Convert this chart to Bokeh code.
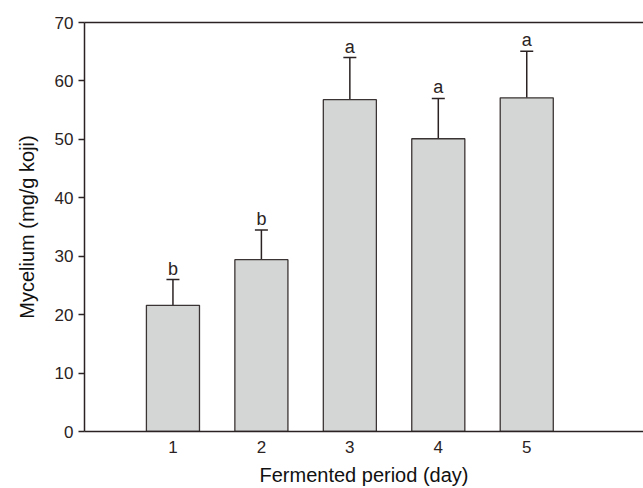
from bokeh.plotting import figure
from bokeh.models import (ColumnDataSource, Range1d, FixedTicker, LinearAxis,
                          Whisker, TeeHead)
from bokeh.core.properties import value
from bokeh.embed import file_html
from bokeh.resources import INLINE

# ---- data ----
days = [1, 2, 3, 4, 5]
day_labels = ["1", "2", "3", "4", "5"]
mycelium = [21.6, 29.4, 56.8, 50.1, 57.1]
error = [4.4, 5.1, 7.2, 6.9, 8.0]
letters = ["b", "b", "a", "a", "a"]
y_ticks = [0, 10, 20, 30, 40, 50, 60, 70]

FONT = "Liberation Sans"
DARK = "#2b2323"
BAR_FILL = "#d4d6d5"
BAR_LINE = "#3b3434"

upper = [m + e for m, e in zip(mycelium, error)]
src = ColumnDataSource(dict(x=days, top=mycelium, upper=upper, letter=letters))

p = figure(width=643, height=488, output_backend="svg", toolbar_location=None,
           x_range=Range1d(0, 6.32), y_range=Range1d(0, 70),
           min_border_left=84, min_border_right=0, min_border_top=22,
           min_border_bottom=57, background_fill_color="white",
           border_fill_color="white")
p.outline_line_color = None
p.xgrid.visible = False
p.ygrid.visible = False

p.vbar(x="x", top="top", width=0.6, bottom=0, source=src,
       fill_color=BAR_FILL, line_color=BAR_LINE, line_width=1.3)

wh = Whisker(base="x", lower="top", upper="upper", source=src,
             dimension="height", line_color=DARK, line_width=1.5,
             lower_head=None,
             upper_head=TeeHead(size=13, line_color=DARK, line_width=1.5))
p.add_layout(wh)

p.text(x="x", y="upper", text="letter", source=src,
       text_align="center", text_baseline="bottom", y_offset=-1,
       text_font=value(FONT), text_font_size="18px", text_color=DARK)

# axes
p.xaxis.ticker = FixedTicker(ticks=days)
p.xaxis.major_label_overrides = {d: l for d, l in zip(days, day_labels)}
p.xaxis.major_tick_out = 0
p.xaxis.major_tick_in = 0
p.xaxis.minor_tick_out = 0
p.xaxis.minor_tick_in = 0
p.xaxis.axis_label = "Fermented period (day)"

p.yaxis.ticker = FixedTicker(ticks=y_ticks)
p.yaxis.major_tick_out = 6
p.yaxis.major_tick_in = 0
p.yaxis.minor_tick_out = 0
p.yaxis.minor_tick_in = 0
p.yaxis.axis_label = "Mycelium (mg/g koji)"

for ax in (p.xaxis[0], p.yaxis[0]):
    ax.axis_line_color = DARK
    ax.axis_line_width = 1.5
    ax.major_tick_line_color = DARK
    ax.major_tick_line_width = 1.5
    ax.major_label_text_font = FONT
    ax.major_label_text_font_size = "17px"
    ax.major_label_text_color = DARK
    ax.axis_label_text_font = FONT
    ax.axis_label_text_font_size = "20px"
    ax.axis_label_text_font_style = "normal"
    ax.axis_label_text_color = "#111111"

p.xaxis.major_label_standoff = 9
p.xaxis.axis_label_standoff = 8
p.yaxis.major_label_standoff = 5
p.yaxis.axis_label_standoff = 14

top_axis = LinearAxis(ticker=FixedTicker(ticks=[]), major_tick_out=0,
                      major_tick_in=0, minor_tick_out=0, minor_tick_in=0,
                      major_label_text_font_size="0px",
                      axis_line_color=DARK, axis_line_width=1.5)
p.add_layout(top_axis, "above")

open("out.html", "w").write(file_html(p, INLINE))
